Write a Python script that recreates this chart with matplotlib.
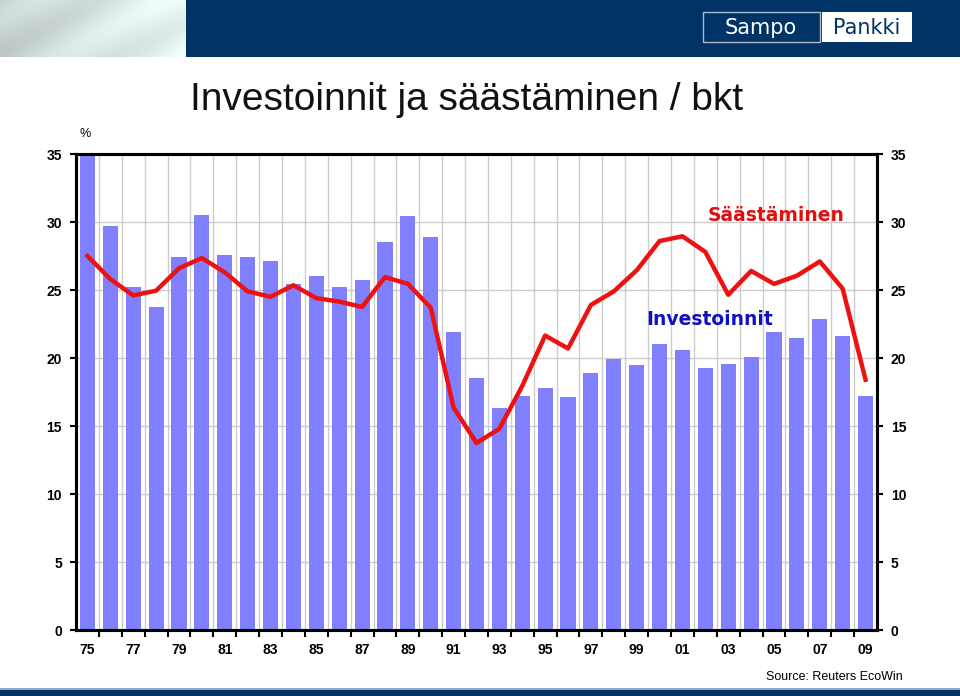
import matplotlib
matplotlib.use("Agg")
import matplotlib.pyplot as plt
import numpy as np
from matplotlib.patches import Rectangle

years = list(range(1975, 2010))
investoinnit = [35.5, 29.7, 25.2, 23.75, 27.4, 30.5, 27.6, 27.4, 27.15, 25.45, 26.0, 25.2, 25.7,
                28.55, 30.45, 28.9, 21.9, 18.55, 16.35, 17.2, 17.8, 17.1, 18.9, 19.9, 19.5,
                21.0, 20.6, 19.25, 19.55, 20.1, 21.9, 21.45, 22.9, 21.6, 17.2]
saastaminen = [27.5, 25.8, 24.6, 24.95, 26.6, 27.35, 26.3, 24.9, 24.5, 25.35, 24.4, 24.15, 23.75,
               25.95, 25.45, 23.7, 16.35, 13.75, 14.8, 17.95, 21.65, 20.7, 23.9, 24.9, 26.45,
               28.6, 28.95, 27.8, 24.65, 26.4, 25.45, 26.05, 27.1, 25.1, 18.4]
yticks = [0, 5, 10, 15, 20, 25, 30, 35]
title = "Investoinnit ja säästäminen / bkt"

navy = "#003366"
fig = plt.figure(figsize=(9.6, 6.96), dpi=100)
fig.patch.set_facecolor("white")

# header band
hdr = fig.add_axes([0, 1 - 57/696, 1, 57/696])
hdr.set_xlim(0, 960); hdr.set_ylim(57, 0); hdr.axis("off")
hdr.add_patch(Rectangle((186, 0), 774, 57, color=navy, lw=0))
grad = np.linspace(0, 1, 186)[None, :] * np.ones((57, 1))
yy = np.linspace(0, 1, 57)[:, None]
img = 0.82 + 0.15 * grad + 0.04 * np.sin(grad * 9 + yy * 5)
hdr.imshow(np.dstack([img * 0.95, img, img]).clip(0, 1), extent=(0, 186, 57, 0), aspect="auto")
hdr.add_patch(Rectangle((703, 12), 117, 30, fill=False, ec="#aabbcc", lw=1))
hdr.add_patch(Rectangle((822, 12), 90, 30, color="white", lw=0))
hdr.text(761, 28, "Sampo", color="white", fontsize=15, ha="center", va="center", family="DejaVu Sans")
hdr.text(867, 28, "Pankki", color=navy, fontsize=15, ha="center", va="center", family="DejaVu Sans")

# bottom band
bot = fig.add_axes([0, 0, 1, 8/696])
bot.set_xlim(0, 1); bot.set_ylim(0, 1); bot.axis("off")
bot.add_patch(Rectangle((0, 0), 1, 0.78, color=navy, lw=0))
bot.add_patch(Rectangle((0, 0.78), 1, 0.22, color="#8fa8c0", lw=0))

fig.text(190/960, 1 - 100/696, title, fontsize=28, family="Liberation Sans", va="center", ha="left", color="#111111")
fig.text(80/960, 1 - 134/696, "%", fontsize=9, family="Liberation Sans", va="center")
fig.text(903/960, 1 - 677/696, "Source: Reuters EcoWin", fontsize=9, family="Liberation Sans", ha="right", va="center")

ax = fig.add_axes([76/960, 1 - 630/696, (877 - 76)/960, (630 - 154)/696])
ax.set_xlim(1974.5, 2009.5)
ax.set_ylim(0, 35)
ax.bar(years, investoinnit, width=0.66, color="#8080ff", zorder=2)
ax.plot(years, saastaminen, color="#ee1111", lw=3.2, zorder=3, solid_joinstyle="round")

ax.set_yticks(yticks)
ax.set_yticklabels([str(v) for v in yticks])
major = [y for y in years if y % 2 == 1]
ax.set_xticks(major)
ax.set_xticklabels([f"{y % 100:02d}" for y in major])
ax.set_xticks([y + 0.5 for y in years[:-1]], minor=True)
ax.tick_params(axis="x", which="major", length=0, pad=9)
ax.tick_params(axis="x", which="minor", length=5, width=1.5, direction="out")
ax.tick_params(axis="y", length=4, width=1.5, direction="out", pad=6)
for lab in ax.get_xticklabels() + ax.get_yticklabels():
    lab.set_family("Liberation Sans"); lab.set_fontweight("bold"); lab.set_fontsize(10)
ax.grid(which="minor", axis="x", color="#cccccc", lw=1, zorder=0)
ax.grid(which="major", axis="y", color="#cccccc", lw=1, zorder=0)
ax.grid(which="major", axis="x", visible=False)
for s in ax.spines.values():
    s.set_linewidth(2.2); s.set_color("black")

ax2 = ax.twinx()
ax2.set_ylim(0, 35)
ax2.set_yticks(yticks)
ax2.set_yticklabels([str(v) for v in yticks])
ax2.tick_params(axis="y", length=4, width=1.5, direction="out", pad=6)
for lab in ax2.get_yticklabels():
    lab.set_family("Liberation Sans"); lab.set_fontweight("bold"); lab.set_fontsize(10)
for s in ax2.spines.values():
    s.set_linewidth(2.2)

ax.text(2005.1, 30.45, "Säästäminen", color="#e01010", fontsize=13.5, fontweight="bold",
        family="DejaVu Sans", ha="center", va="center", zorder=5)
ax.text(2002.2, 22.8, "Investoinnit", color="#1010c0", fontsize=13.5, fontweight="bold",
        family="DejaVu Sans", ha="center", va="center", zorder=5)

fig.savefig("out.png", dpi=100)
